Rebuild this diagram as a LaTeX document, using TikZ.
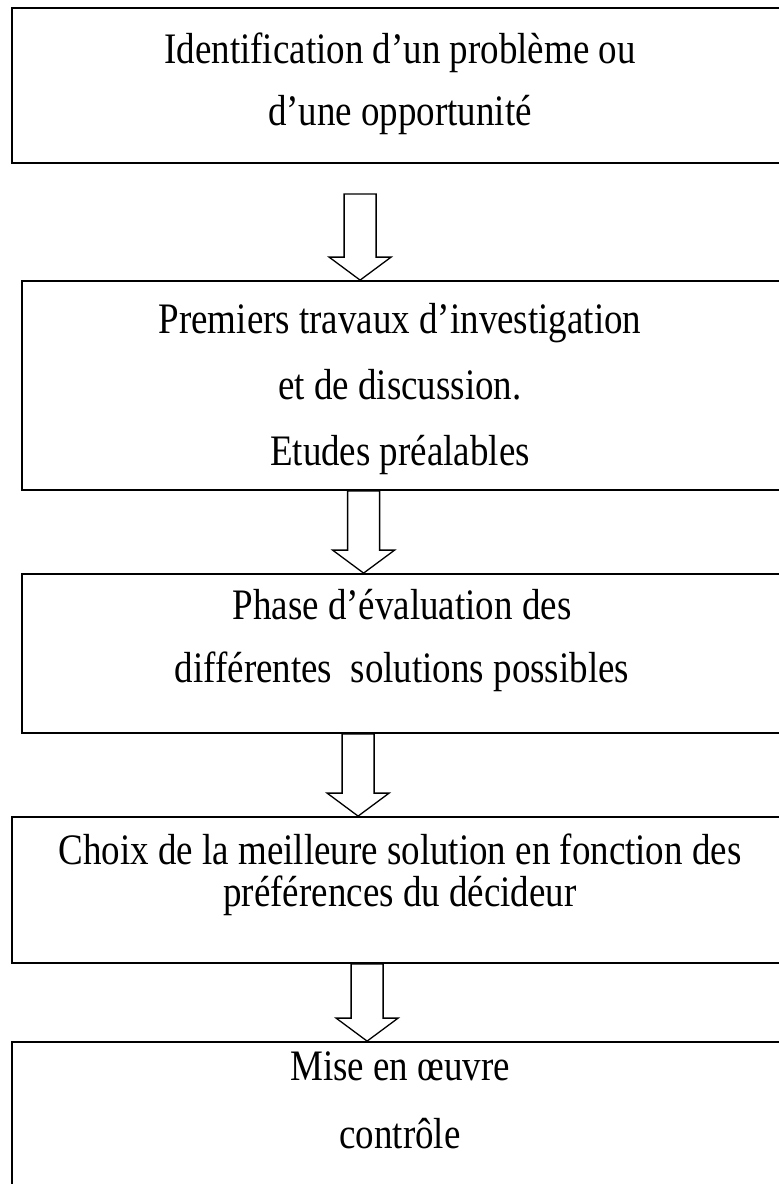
\documentclass[tikz,border=0pt]{standalone}
\usepackage{fontspec}
\setmainfont[FakeStretch=0.85]{Liberation Serif}
\usetikzlibrary{calc}

\begin{document}
\begin{tikzpicture}[x=1pt,y=-1pt,
  box/.style={draw,line width=1.8pt,inner sep=0pt},
  txt/.style={anchor=base,inner sep=0pt,font=\fontsize{43.5}{50}\selectfont},
  arrowline/.style={draw,line width=1.3pt,line join=miter}]
  \useasboundingbox (0,0) rectangle (779,1184);
  % boxes, the right side runs past the page
  \node [box,minimum width=773,minimum height=155] (b1) at (398.5,85.5) {};
  \node [box,minimum width=763,minimum height=209] (b2) at (403.5,385.5) {};
  \node [box,minimum width=763,minimum height=159] (b3) at (403.5,653.5) {};
  \node [box,minimum width=773,minimum height=146] (b4) at (398.5,890) {};
  \node [box,minimum width=773,minimum height=170] (b5) at (398.5,1127) {};
  % texts, one node for each line
  \node [txt] (ident) at (400,63) {Identification d’un problème ou};
  \node [txt] (oppor) at (400,125) {d’une opportunité};
  \node [txt] (prem) at (400,333) {Premiers travaux d’investigation};
  \node [txt] (disc) at (400,399) {et de discussion.};
  \node [txt] (etud) at (400,465) {Etudes préalables};
  \node [txt] (phase) at (402,619) {Phase d’évaluation des};
  \node [txt] (diff) at (402,682) {différentes\ \ solutions possibles};
  \node [txt] (choix) at (400,864) {Choix de la meilleure solution en fonction des};
  \node [txt] (pref) at (400,906) {préférences du décideur};
  \node [txt] (mise) at (400,1080) {Mise en œuvre};
  \node [txt] (ctrl) at (400,1148) {contrôle};
  % start and tip of the hollow arrows
  \coordinate (a1s) at ($(b1.south west)+(349,30)$);
  \coordinate (a1t) at (a1s |- b2.north);
  \coordinate (a2s) at ($(b2.south west)+(342.5,0)$);
  \coordinate (a2t) at (a2s |- b3.north);
  \coordinate (a3s) at ($(b3.south west)+(337,0)$);
  \coordinate (a3t) at (a3s |- b4.north);
  \coordinate (a4s) at ($(b4.south west)+(356,0)$);
  \coordinate (a4t) at (a4s |- b5.north);
  \foreach \s/\t in {a1s/a1t,a2s/a2t,a3s/a3t,a4s/a4t}
    \draw [arrowline] ($(\s)+(-16,0)$) -- ($(\t)+(-16,-23)$) -- ($(\t)+(-31,-23)$)
      -- (\t) -- ($(\t)+(31,-23)$) -- ($(\t)+(16,-23)$) -- ($(\s)+(16,0)$) -- cycle;
\end{tikzpicture}
\end{document}
